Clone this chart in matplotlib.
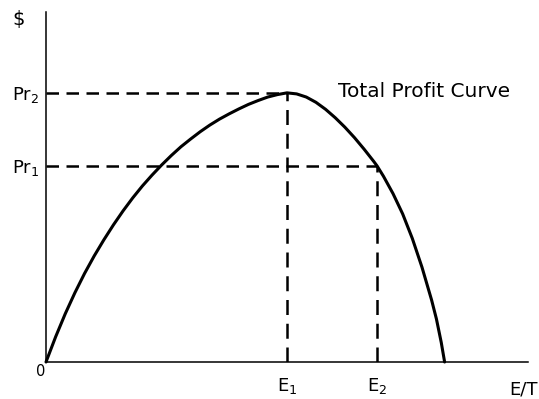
import matplotlib
matplotlib.use("Agg")
import matplotlib.pyplot as plt

plt.rcParams['font.family'] = ['DejaVu Sans']
plt.rcParams['mathtext.fontset'] = 'custom'
plt.rcParams['mathtext.rm'] = 'DejaVu Sans'
plt.rcParams['mathtext.it'] = 'DejaVu Sans'

# Curve points (x = E/T, y = $)
curve_x = [0, 2, 4, 6, 8, 10, 12, 14, 16, 18, 20, 22, 24, 26, 28, 30, 32, 34, 36,
           38, 40, 42, 44, 46, 48, 50, 52, 54, 56, 58, 60, 62, 64, 66, 68, 68.7,
           70, 72, 74, 76, 78, 80, 81, 82, 82.7]
curve_y = [0, 7.2, 13.8, 19.8, 25.3, 30.3, 34.9, 39.2, 43.2, 46.9, 50.3, 53.4,
           56.3, 59.0, 61.5, 63.7, 65.8, 67.7, 69.4, 70.9, 72.3, 73.6, 74.7, 75.7,
           76.4, 76.9, 76.6, 75.7, 74.2, 72.2, 69.8, 67.1, 64.1, 60.8, 57.3, 56.0,
           53.1, 48.1, 42.3, 35.3, 27.1, 17.7, 12.3, 5.6, 0]

E1, E2 = 50.0, 68.7
Pr2, Pr1 = 76.9, 56.0
x_labels = ['E$_1$', 'E$_2$']
y_labels = ['Pr$_1$', 'Pr$_2$']

W, H = 539, 399
fig = plt.figure(figsize=(W / 100, H / 100), dpi=100)
ax = fig.add_axes([46 / W, (H - 362) / H, (528 - 46) / W, (362 - 12) / H])
ax.set_xlim(0, 100)
ax.set_ylim(0, 100)

ax.plot(curve_x, curve_y, color='black', lw=2.2, solid_capstyle='round',
        solid_joinstyle='round', clip_on=False)

dash_kw = dict(color='black', lw=1.8)
ax.plot([0, E1], [Pr2, Pr2], dashes=(5, 3), **dash_kw)
ax.plot([E1, E1], [0, Pr2], dashes=(6, 3.5), **dash_kw)
ax.plot([0, E2], [Pr1, Pr1], dashes=(5, 3), **dash_kw)
ax.plot([E2, E2], [0, Pr1], dashes=(6, 3.5), **dash_kw)

for s in ['top', 'right']:
    ax.spines[s].set_visible(False)
for s in ['left', 'bottom']:
    ax.spines[s].set_linewidth(1.1)

ax.set_xticks([E1, E2], x_labels)
ax.set_yticks([Pr1, Pr2], y_labels)
ax.tick_params(axis='x', length=0, pad=10, labelsize=13)
ax.tick_params(axis='y', length=0, pad=5, labelsize=13)

ax.annotate('0', xy=(0, 0), xycoords='axes fraction', xytext=(-4, -7),
            textcoords='offset points', ha='center', va='center', fontsize=10.5)
ax.annotate('$', xy=(0, 1), xycoords='axes fraction', xytext=(-20, -5.5),
            textcoords='offset points', ha='center', va='center', fontsize=14)
ax.annotate('E/T', xy=(1, 0), xycoords='axes fraction', xytext=(7.2, -20),
            textcoords='offset points', ha='right', va='center', fontsize=13)
ax.text(60.6, 77.4, 'Total Profit Curve', ha='left', va='center', fontsize=14.5)

fig.savefig('out.png', dpi=100)
